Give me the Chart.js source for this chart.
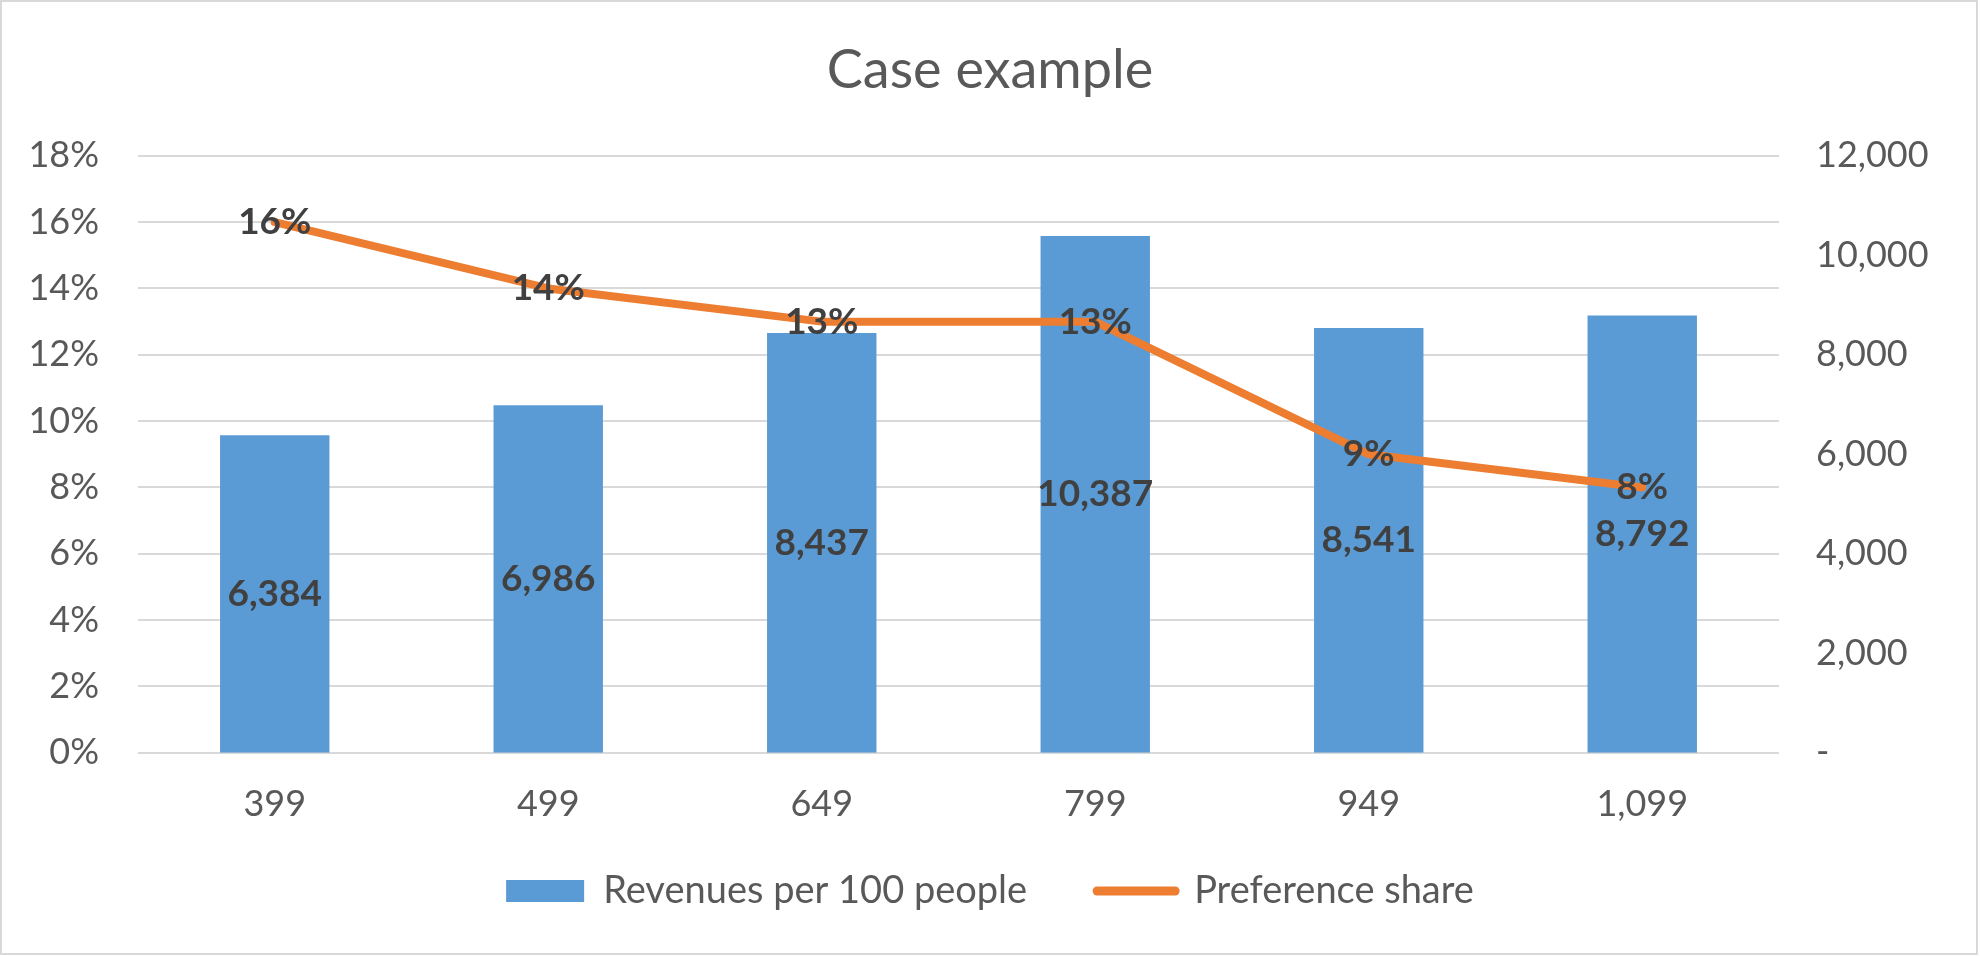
<!DOCTYPE html>
<html>
<head>
<meta charset="utf-8">
<script src="https://cdn.jsdelivr.net/npm/chart.js@4/dist/chart.umd.min.js"></script>
<style>
html,body{margin:0;padding:0;background:#fff;}
#wrap{width:1980px;height:956px;position:relative;}
canvas{display:block;}
</style>
</head>
<body>
<div id="wrap"><canvas id="c" width="1980" height="956"></canvas></div>
<script>
const categories = ['399', '499', '649', '799', '949', '1,099'];
const revenues = [6384, 6986, 8437, 10387, 8541, 8792];
const shares = [16, 14, 13, 13, 9, 8];
const leftTickLabels = ['0%', '2%', '4%', '6%', '8%', '10%', '12%', '14%', '16%', '18%'];
const rightTickLabels = ['-', '2,000', '4,000', '6,000', '8,000', '10,000', '12,000'];
const seriesNames = ['Revenues per 100 people', 'Preference share'];
const chartTitle = 'Case example';

const FONT = 'Lato, "Open Sans", sans-serif';

const frame = {
  id: 'frame',
  beforeDraw(chart) {
    const ctx = chart.ctx;
    ctx.save();
    ctx.fillStyle = '#ffffff';
    ctx.fillRect(0, 0, chart.width, chart.height);
    ctx.strokeStyle = '#D9D9D9';
    ctx.lineWidth = 2;
    ctx.strokeRect(1, 1, 1976, 953);
    ctx.restore();
  }
};

// let the category labels extend below the (shortened) x-axis box without being clipped
const xLabelRoom = {
  id: 'xLabelRoom',
  afterLayout(chart) {
    const s = chart.scales.x;
    s.bottom = chart.height;
  }
};

const labelsPlugin = {
  id: 'valueLabels',
  afterDatasetsDraw(chart) {
    const ctx = chart.ctx;
    ctx.save();
    ctx.font = 'bold 37px ' + FONT;
    ctx.fillStyle = '#404040';
    ctx.textAlign = 'center';
    ctx.textBaseline = 'middle';
    const barMeta = chart.getDatasetMeta(0);
    barMeta.data.forEach((el, i) => {
      const cy = (el.y + el.base) / 2;
      ctx.fillText(revenues[i].toLocaleString('en-US'), el.x, cy);
    });
    const lineMeta = chart.getDatasetMeta(1);
    lineMeta.data.forEach((el, i) => {
      ctx.fillText(shares[i] + '%', el.x, el.y);
    });
    ctx.restore();
  }
};

new Chart(document.getElementById('c'), {
  data: {
    labels: categories,
    datasets: [
      {
        type: 'bar',
        label: seriesNames[0],
        data: revenues,
        backgroundColor: '#5B9BD5',
        borderWidth: 0,
        yAxisID: 'y1',
        categoryPercentage: 1,
        barPercentage: 0.4,
        order: 1
      },
      {
        type: 'line',
        label: seriesNames[1],
        data: shares,
        borderColor: '#ED7D31',
        backgroundColor: '#ED7D31',
        borderWidth: 8,
        borderCapStyle: 'round',
        borderJoinStyle: 'round',
        pointRadius: 0,
        tension: 0,
        yAxisID: 'y',
        order: 0
      }
    ]
  },
  options: {
    responsive: false,
    animation: false,
    devicePixelRatio: 1,
    layout: { padding: { left: 0, right: 0, top: 0, bottom: 36 } },
    plugins: {
      tooltip: { enabled: false },
      title: {
        display: true,
        text: chartTitle,
        color: '#595959',
        font: { family: FONT, size: 54, weight: 'normal' },
        padding: { top: 38, bottom: 53 }
      },
      legend: {
        position: 'bottom',
        labels: {
          color: '#595959',
          font: { family: FONT, size: 38 },
          usePointStyle: true,
          pointStyleWidth: 78,
          boxHeight: 22,
          padding: 70,
          generateLabels(chart) {
            const items = Chart.defaults.plugins.legend.labels.generateLabels(chart);
            items.sort((a, b) => a.datasetIndex - b.datasetIndex);
            items.forEach(it => {
              if (it.datasetIndex === 0) {
                it.pointStyle = 'rect';
                it.lineWidth = 0;
                it.fillStyle = '#5B9BD5';
                it.strokeStyle = '#5B9BD5';
              } else {
                it.pointStyle = 'line';
                it.lineWidth = 9;
                it.lineCap = 'round';
                it.strokeStyle = '#ED7D31';
                it.fillStyle = '#ED7D31';
              }
            });
            return items;
          }
        }
      }
    },
    scales: {
      x: {
        grid: { display: false, drawTicks: false },
        border: { display: false },
        afterFit(scale) { scale.height = scale.height - 54; },
        ticks: {
          color: '#595959',
          font: { family: FONT, size: 36 },
          padding: 30
        }
      },
      y: {
        position: 'left',
        min: 0,
        max: 18,
        afterBuildTicks(scale) {
          scale.ticks = leftTickLabels.map((t, i) => ({ value: i * 2 }));
        },
        afterFit(scale) { scale.width = 138; },
        grid: { color: '#D9D9D9', lineWidth: 2, drawTicks: false },
        border: { display: false },
        ticks: {
          color: '#595959',
          font: { family: FONT, size: 36 },
          padding: 39,
          callback: (v, i) => leftTickLabels[i]
        }
      },
      y1: {
        position: 'right',
        min: 0,
        max: 12000,
        afterBuildTicks(scale) {
          scale.ticks = rightTickLabels.map((t, i) => ({ value: i * 2000 }));
        },
        afterFit(scale) { scale.width = 201; },
        grid: { display: false, drawTicks: false },
        border: { display: false },
        ticks: {
          color: '#595959',
          font: { family: FONT, size: 36 },
          padding: 37,
          callback: (v, i) => rightTickLabels[i]
        }
      }
    }
  },
  plugins: [frame, xLabelRoom, labelsPlugin]
});
</script>
</body>
</html>
